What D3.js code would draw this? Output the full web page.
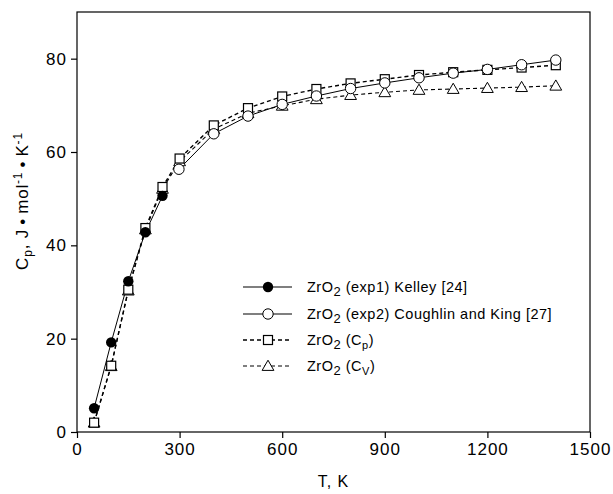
<html>
<head>
<script src="https://d3js.org/d3.v7.min.js"></script>
<style>
body { margin: 0; background: #fff; }
text { font-family: "Liberation Sans", Arial, sans-serif; fill: #000; }
</style>
</head>
<body>
<script>
// data
var kelleyT = [50, 100, 150, 200, 250];
var kelleyCp = [5.1, 19.2, 32.3, 42.8, 50.6];

var coughT = [298, 400, 500, 600, 700, 800, 900, 1000, 1100, 1200, 1300, 1400];
var coughCp = [56.3, 63.9, 67.7, 70.2, 72.0, 73.6, 74.8, 75.9, 76.9, 77.7, 78.7, 79.7];

var calcT = [50, 100, 150, 200, 250, 300, 400, 500, 600, 700, 800, 900, 1000, 1100, 1200, 1300, 1400];
var calcCp = [2.0, 14.2, 30.5, 43.7, 52.5, 58.6, 65.7, 69.4, 71.9, 73.5, 74.7, 75.6, 76.5, 77.1, 77.6, 78.1, 78.6];
var calcCv = [2.0, 14.1, 30.3, 43.4, 52.1, 58.0, 64.9, 68.3, 69.9, 71.3, 72.2, 72.8, 73.3, 73.5, 73.7, 73.9, 74.2];

var xTicks = [0, 300, 600, 900, 1200, 1500];
var yTicks = [0, 20, 40, 60, 80];

var w = 613, h = 494;
var margin = {top: 12, right: 23, bottom: 62, left: 77};

var svg = d3.select("body").append("svg").attr("width", w).attr("height", h);

var x = d3.scaleLinear().domain([0, 1500]).range([margin.left, w - margin.right]);
var y = d3.scaleLinear().domain([0, 90]).range([h - margin.bottom, margin.top]);

// frame
svg.append("rect")
  .attr("x", x(0)).attr("y", y(90))
  .attr("width", x(1500) - x(0)).attr("height", y(0) - y(90))
  .attr("fill", "none").attr("stroke", "#000").attr("stroke-width", 1.2);

var xAxis = svg.append("g")
  .attr("transform", "translate(0," + y(0) + ")")
  .call(d3.axisBottom(x).tickValues(xTicks).tickSize(6).tickPadding(5).tickFormat(d3.format("d")));
var yAxis = svg.append("g")
  .attr("transform", "translate(" + x(0) + ",0)")
  .call(d3.axisLeft(y).tickValues(yTicks).tickSize(6).tickPadding(4));
[xAxis, yAxis].forEach(function(a) {
  a.select(".domain").remove();
  a.selectAll("line").attr("stroke", "#000").attr("stroke-width", 1.2);
  a.selectAll("text").style("font-size", "17px").style("letter-spacing", "1px")
    .style("font-family", "Liberation Sans, Arial, sans-serif").attr("fill", "#000");
});

// axis titles
svg.append("text")
  .attr("x", (x(0) + x(1500)) / 2).attr("y", 487)
  .attr("text-anchor", "middle").style("font-size", "16px").style("letter-spacing", "1px")
  .text("T, K");

var yl = svg.append("text")
  .attr("transform", "translate(28," + 201 + ") rotate(-90)")
  .attr("text-anchor", "middle").style("font-size", "17px").style("letter-spacing", "0.8px");
yl.append("tspan").text("C");
yl.append("tspan").attr("dy", 4).style("font-size", "12px").text("p");
yl.append("tspan").attr("dy", -4).text(", J\u2009\u2022\u2009mol");
yl.append("tspan").attr("dy", -6).style("font-size", "12px").text("-1");
yl.append("tspan").attr("dy", 6).text("\u2009\u2022\u2009K");
yl.append("tspan").attr("dy", -6).style("font-size", "12px").text("-1");

function pts(ts, vs) { return ts.map(function(t, i) { return [t, vs[i]]; }); }
var line = d3.line().x(function(d) { return x(d[0]); }).y(function(d) { return y(d[1]); });

var series = [
  {name: "cv", data: pts(calcT, calcCv), dash: "4,3", sw: 1.1, marker: "tri"},
  {name: "cp", data: pts(calcT, calcCp), dash: "4,3", sw: 1.4, marker: "sq"},
  {name: "cough", data: pts(coughT, coughCp), dash: null, sw: 1.0, marker: "open"},
  {name: "kelley", data: pts(kelleyT, kelleyCp), dash: null, sw: 1.0, marker: "fill"}
];

series.forEach(function(s) {
  svg.append("path").attr("d", line(s.data))
    .attr("fill", "none").attr("stroke", "#000").attr("stroke-width", s.sw)
    .attr("stroke-dasharray", s.dash);
});

function drawMarker(g, type, cx, cy) {
  if (type === "fill") {
    g.append("circle").attr("cx", cx).attr("cy", cy).attr("r", 5.2).attr("fill", "#000");
  } else if (type === "open") {
    g.append("circle").attr("cx", cx).attr("cy", cy).attr("r", 5.2)
      .attr("fill", "#fff").attr("stroke", "#000").attr("stroke-width", 1);
  } else if (type === "sq") {
    g.append("rect").attr("x", cx - 4.5).attr("y", cy - 4.5).attr("width", 9).attr("height", 9)
      .attr("fill", "#fff").attr("stroke", "#000").attr("stroke-width", 1.2);
  } else {
    g.append("path").attr("d", d3.symbol(d3.symbolTriangle, 60)())
      .attr("transform", "translate(" + cx + "," + (cy + 1) + ")")
      .attr("fill", "#fff").attr("stroke", "#000").attr("stroke-width", 1);
  }
}

series.forEach(function(s) {
  var g = svg.append("g");
  s.data.forEach(function(d) { drawMarker(g, s.marker, x(d[0]), y(d[1])); });
});

// legend
var legend = [
  {marker: "fill", dash: null, sw: 1.2, main: " (exp1) Kelley [24]", sub: null},
  {marker: "open", dash: null, sw: 1.2, main: " (exp2) Coughlin and King [27]", sub: null},
  {marker: "sq", dash: "4,3", sw: 1.4, main: " (C", sub: "p"},
  {marker: "tri", dash: "4,3", sw: 1.1, main: " (C", sub: "V"}
];
var ly = [287, 314, 340, 366];
legend.forEach(function(l, i) {
  var g = svg.append("g");
  g.append("line").attr("x1", 243).attr("x2", 292).attr("y1", ly[i]).attr("y2", ly[i])
    .attr("stroke", "#000").attr("stroke-width", l.sw).attr("stroke-dasharray", l.dash);
  drawMarker(g, l.marker, 268, ly[i]);
  var t = g.append("text").attr("x", 307).attr("y", ly[i] + 5)
    .style("font-size", "14.5px").style("letter-spacing", "0.5px");
  t.append("tspan").text("ZrO");
  t.append("tspan").attr("dy", 4).style("font-size", "13px").text("2");
  t.append("tspan").attr("dy", -4).text(l.main);
  if (l.sub) {
    t.append("tspan").attr("dy", 4).style("font-size", "11px").text(l.sub);
    t.append("tspan").attr("dy", -4).text(")");
  }
});
</script>
</body>
</html>
